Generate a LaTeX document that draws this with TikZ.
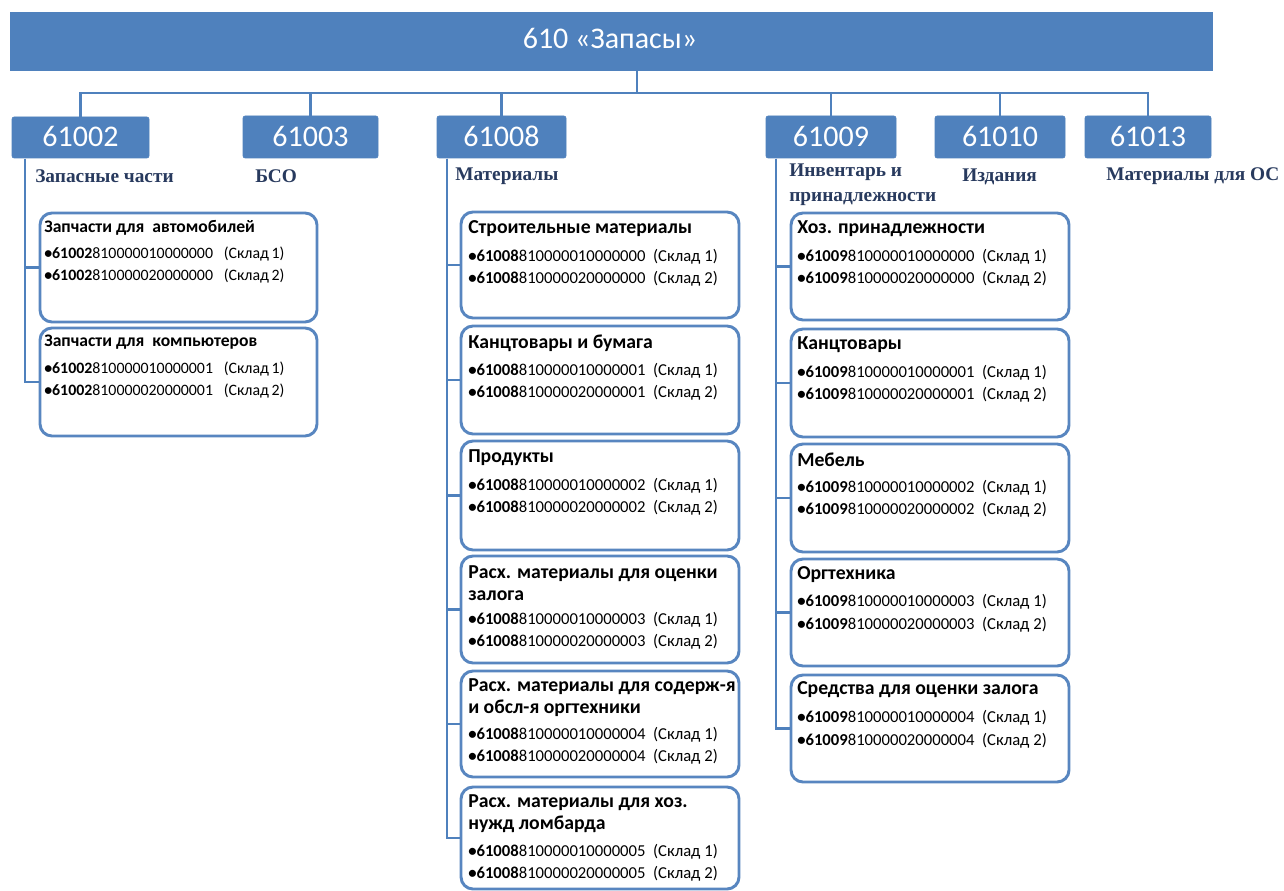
\documentclass[tikz,border=0pt]{standalone}
\usepackage{fontspec}
\setmainfont{Carlito}
\newfontfamily\serifbold{Liberation Serif}[BoldFont={Liberation Serif Bold}]
\usetikzlibrary{fit}
\definecolor{blueA}{RGB}{79,129,189}
\definecolor{blueB}{RGB}{88,134,192}
\definecolor{lblc}{RGB}{40,58,94}
\begin{document}
\begin{tikzpicture}[x=0.75pt,y=-0.75pt,
  hdr/.style={fill=blueA,draw=blueA,rounded corners=1.5pt,inner sep=0pt},
  hdrtxt/.style={text=white,font=\fontsize{22.5}{26}\selectfont,inner sep=0pt},
  tree/.style={draw=blueA,line width=2.2pt},
  ibox/.style={draw=blueB,line width=2.2pt,rounded corners=9pt,fill=white,inner sep=0pt},
  lbl/.style={text=lblc,font=\serifbold\bfseries\fontsize{14.5}{18.5}\selectfont,inner sep=0pt,anchor=west,align=left},
  ttl/.style={font=\bfseries\fontsize{14.8}{16.5}\selectfont,inner sep=0pt,anchor=west,align=left},
  itm/.style={font=\fontsize{12.5}{14}\selectfont,inner sep=0pt,anchor=west},
  ttls/.style={font=\bfseries\fontsize{13.2}{15}\selectfont,inner sep=0pt,anchor=west,align=left},
  itms/.style={font=\fontsize{11.9}{14}\selectfont,inner sep=0pt,anchor=west}]
\useasboundingbox (0,0) rectangle (1284,891);
\fill[white] (0,0) rectangle (1284,891);

% top bar
\node[hdr,rounded corners=0pt,fit={(10,12) (1212,70)}] (top) {};
\node[hdrtxt] (toptxt) at (610,38) {610 «Запасы»};

% second-level headers
\node[hdr,fit={(12,117) (149,158)}] (h02) {};
\node[hdr,fit={(243,116) (378,158)}] (h03) {};
\node[hdr,fit={(437,116) (566,158)}] (h08) {};
\node[hdr,fit={(766,116) (896,158)}] (h09) {};
\node[hdr,fit={(935,116) (1065,158)}] (h10) {};
\node[hdr,fit={(1085,116) (1211,158)}] (h13) {};
\node[hdrtxt] (h02t) at (80.5,136) {61002};
\node[hdrtxt] (h03t) at (310.5,136) {61003};
\node[hdrtxt] (h08t) at (501.5,136) {61008};
\node[hdrtxt] (h09t) at (831,136) {61009};
\node[hdrtxt] (h10t) at (1000,136) {61010};
\node[hdrtxt] (h13t) at (1148,136) {61013};

% top tree
\coordinate (tj) at (637,70);
\coordinate (hub) at (637,93);
\draw[tree] (tj) -- (hub);
\draw[tree] (hub) -| (h02.north);
\draw[tree] (hub) -| (h03.north);
\draw[tree] (hub) -| (h08.north);
\draw[tree] (hub) -| (h09.north);
\draw[tree] (hub) -| (h10.north);
\draw[tree] (hub) -| (h13.north);

% labels
\node[lbl] (l02) at (35,176) {Запасные части};
\node[lbl] (l03) at (255,176) {БСО};
\node[lbl] (l08) at (455,176) {Материалы};
\node[lbl] (l09) at (789,185) {Инвентарь и\\принадлежности};
\node[lbl] (l10) at (962,177) {Издания};
\node[lbl] (l13) at (1106,176) {Материалы для ОС};

% ===== column 61002 =====
\coordinate (v02) at (25,159);
\node[ibox,fit={(40,213) (317,322)}] (b21) {};
\node[ibox,fit={(40,328) (317,436)}] (b22) {};
\draw[tree] (v02) |- (b21.west);
\draw[tree] (v02) |- (b22.west);
\node[ttls] (b21t) at (44,228) {Запчасти для\ \ автомобилей};
\node[itms] (b21a) at (44,254) {\textbf{•61002}810000010000000\ \ \ (Склад\,1)};
\node[itms] (b21b) at (44,276) {\textbf{•61002}810000020000000\ \ \ (Склад\,2)};
\node[ttls] (b22t) at (44,342) {Запчасти для\ \ компьютеров};
\node[itms] (b22a) at (44,369) {\textbf{•61002}810000010000001\ \ \ (Склад\,1)};
\node[itms] (b22b) at (44,391) {\textbf{•61002}810000020000001\ \ \ (Склад\,2)};

% ===== column 61008 =====
\coordinate (v08) at (447,159);
\node[ibox,fit={(461,212) (739,318)}] (b81) {};
\node[ibox,fit={(461,326) (739,434)}] (b82) {};
\node[ibox,fit={(461,441) (739,550)}] (b83) {};
\node[ibox,fit={(461,556) (739,663)}] (b84) {};
\node[ibox,fit={(461,671) (739,777)}] (b85) {};
\node[ibox,fit={(461,787) (739,889)}] (b86) {};
\draw[tree] (v08) |- (b81.west);
\draw[tree] (v08) |- (b82.west);
\draw[tree] (v08) |- (b83.west);
\draw[tree] (v08) |- (b84.west);
\draw[tree] (v08) |- (b85.west);
\draw[tree] (v08) |- (b86.west);
\node[ttl] (b81t) at (468,229) {Строительные материалы};
\node[itm] (b81a) at (468,257) {\textbf{•61008}810000010000000\ \ (Склад 1)};
\node[itm] (b81b) at (468,279) {\textbf{•61008}810000020000000\ \ (Склад 2)};
\node[ttl] (b82t) at (468,343) {Канцтовары и бумага};
\node[itm] (b82a) at (468,371) {\textbf{•61008}810000010000001\ \ (Склад 1)};
\node[itm] (b82b) at (468,393) {\textbf{•61008}810000020000001\ \ (Склад 2)};
\node[ttl] (b83t) at (468,458) {Продукты};
\node[itm] (b83a) at (468,486) {\textbf{•61008}810000010000002\ \ (Склад 1)};
\node[itm] (b83b) at (468,508) {\textbf{•61008}810000020000002\ \ (Склад 2)};
\node[ttl] (b84t) at (468,583) {Расх. материалы для оценки\\залога};
\node[itm] (b84a) at (468,620) {\textbf{•61008}810000010000003\ \ (Склад 1)};
\node[itm] (b84b) at (468,642) {\textbf{•61008}810000020000003\ \ (Склад 2)};
\node[ttl] (b85t) at (468,698) {Расх. материалы для содерж-я\\и обсл-я оргтехники};
\node[itm] (b85a) at (468,735) {\textbf{•61008}810000010000004\ \ (Склад 1)};
\node[itm] (b85b) at (468,757) {\textbf{•61008}810000020000004\ \ (Склад 2)};
\node[ttl] (b86t) at (468,814) {Расх. материалы для хоз.\\нужд ломбарда};
\node[itm] (b86a) at (468,852) {\textbf{•61008}810000010000005\ \ (Склад 1)};
\node[itm] (b86b) at (468,874) {\textbf{•61008}810000020000005\ \ (Склад 2)};

% ===== column 61009 =====
\coordinate (v09) at (776,159);
\node[ibox,fit={(791,213) (1069,320)}] (b91) {};
\node[ibox,fit={(791,329) (1069,437)}] (b92) {};
\node[ibox,fit={(791,444) (1069,552)}] (b93) {};
\node[ibox,fit={(791,559) (1069,666)}] (b94) {};
\node[ibox,fit={(791,675) (1069,782)}] (b95) {};
\draw[tree] (v09) |- (b91.west);
\draw[tree] (v09) |- (b92.west);
\draw[tree] (v09) |- (b93.west);
\draw[tree] (v09) |- (b94.west);
\draw[tree] (v09) |- (b95.west);
\node[ttl] (b91t) at (797,229) {Хоз. принадлежности};
\node[itm] (b91a) at (797,257) {\textbf{•61009}810000010000000\ \ (Склад 1)};
\node[itm] (b91b) at (797,279) {\textbf{•61009}810000020000000\ \ (Склад 2)};
\node[ttl] (b92t) at (797,345) {Канцтовары};
\node[itm] (b92a) at (797,373) {\textbf{•61009}810000010000001\ \ (Склад 1)};
\node[itm] (b92b) at (797,395) {\textbf{•61009}810000020000001\ \ (Склад 2)};
\node[ttl] (b93t) at (797,460) {Мебель};
\node[itm] (b93a) at (797,488) {\textbf{•61009}810000010000002\ \ (Склад 1)};
\node[itm] (b93b) at (797,510) {\textbf{•61009}810000020000002\ \ (Склад 2)};
\node[ttl] (b94t) at (797,575) {Оргтехника};
\node[itm] (b94a) at (797,602) {\textbf{•61009}810000010000003\ \ (Склад 1)};
\node[itm] (b94b) at (797,625) {\textbf{•61009}810000020000003\ \ (Склад 2)};
\node[ttl] (b95t) at (797,690) {Средства для оценки залога};
\node[itm] (b95a) at (797,718) {\textbf{•61009}810000010000004\ \ (Склад 1)};
\node[itm] (b95b) at (797,741) {\textbf{•61009}810000020000004\ \ (Склад 2)};
\end{tikzpicture}
\end{document}
